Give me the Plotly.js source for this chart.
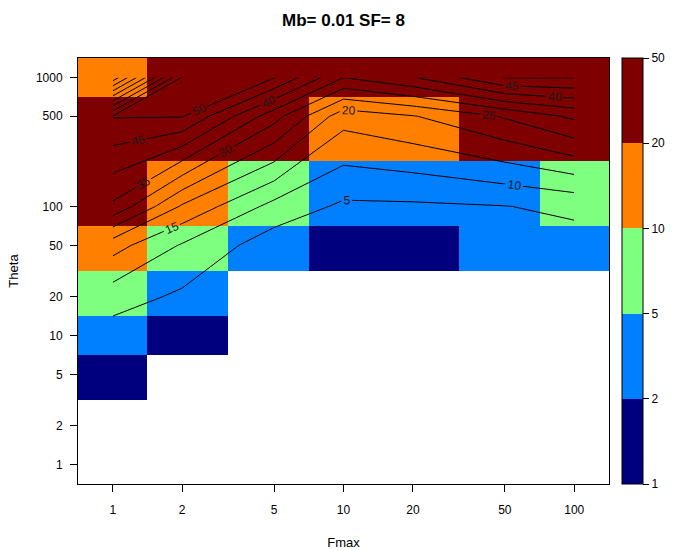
<!DOCTYPE html>
<html><head><meta charset="utf-8">
<script src="https://cdn.plot.ly/plotly-3.0.1.min.js"></script>
<style>html,body{margin:0;padding:0;background:#fff}</style>
</head><body><div id="chart" style="width:678px;height:550px"></div>
<script>
// Axes values
const fmax = [1, 2, 5, 10, 20, 50, 100];
const theta = [1, 2, 5, 10, 20, 50, 100, 500, 1000];
// z values, one array per Theta row (columns follow fmax)
const zTheta1    = [0.5, 0.5, 0.5, 0.5, 0.5, 0.5, 0.5];
const zTheta2    = [0.5, 0.5, 0.5, 0.5, 0.5, 0.5, 0.5];
const zTheta5    = [1.5, 0.5, 0.5, 0.5, 0.5, 0.5, 0.5];
const zTheta10   = [2.7, 1.5, 0.5, 0.5, 0.5, 0.5, 0.5];
const zTheta20   = [7.3, 4.1, 0.5, 0.5, 0.5, 0.5, 0.5];
const zTheta50   = [17, 9.5, 2.2, 1.5, 1.6, 2.8, 2.8];
const zTheta100  = [34, 19.3, 8.3, 4.1, 4.2, 4.85, 6.2];
const zTheta500  = [50.3, 50.3, 32, 17, 19.7, 25.5, 31];
const zTheta1000 = [11.6, 50.3, 50.3, 35.1, 39.8, 50.3, 50.3];
// colour classes
const breaks = [1, 2, 5, 10, 20, 50];
const breakLabels = ['1', '2', '5', '10', '20', '50'];
const binColors = ['#00007F', '#007FFF', '#7FFF7F', '#FF7F00', '#7F0000'];

const zRows = [zTheta1, zTheta2, zTheta5, zTheta10, zTheta20, zTheta50, zTheta100, zTheta500, zTheta1000];
const lx = fmax.map(Math.log10);
const ly = theta.map(Math.log10);

function binOf(v) {
  if (v < breaks[0]) return null;
  let i = 0;
  while (i < breaks.length - 2 && v >= breaks[i + 1]) i++;
  return i + 0.5;
}
const zBins = zRows.map(r => r.map(binOf));

const cs = [];
binColors.forEach((c, k) => { cs.push([k / binColors.length, c]); cs.push([(k + 1) / binColors.length, c]); });

const xr = [lx[0] - (lx[1] - lx[0]) / 2, lx[lx.length - 1] + (lx[lx.length - 1] - lx[lx.length - 2]) / 2];
const yr = [ly[0] - (ly[1] - ly[0]) / 2, ly[ly.length - 1] + (ly[ly.length - 1] - ly[ly.length - 2]) / 2];

const FONT = 'Liberation Sans, Arial, sans-serif';
const W = 678, H = 550, ML = 78, MR = 69, MT = 58, MB = 66;

const heat = {
  type: 'heatmap', x: lx, y: ly, z: zBins,
  zmin: 0, zmax: binColors.length, colorscale: cs, hoverinfo: 'skip',
  colorbar: {
    x: (622 - ML) / (W - ML - MR), xanchor: 'left', xpad: 0,
    y: 0.5, yanchor: 'middle', ypad: 0, len: 1, lenmode: 'fraction',
    thickness: 21, thicknessmode: 'pixels',
    outlinewidth: 1, outlinecolor: 'black',
    tickvals: breaks.map((b, i) => i), ticktext: breakLabels,
    ticks: 'outside', ticklen: 6, tickcolor: 'black', tickwidth: 1,
    tickfont: {family: FONT, size: 12, color: 'black'}
  }
};
const cont = {
  type: 'contour', x: lx, y: ly, z: zRows,
  autocontour: false,
  contours: {coloring: 'none', start: 5, end: 50, size: 5, showlabels: true,
    labelfont: {family: FONT, size: 12, color: '#1a1a1a'}},
  line: {color: 'black', width: 1, smoothing: 0},
  showscale: false, hoverinfo: 'skip'
};

const axisBase = {
  ticks: 'outside', ticklen: 7, tickwidth: 1, tickcolor: 'black',
  showline: true, mirror: true, linecolor: 'black', linewidth: 1,
  showgrid: false, zeroline: false,
  tickfont: {family: FONT, size: 12, color: 'black'}
};

const layout = {
  width: W, height: H,
  margin: {l: ML, r: MR, t: MT, b: MB, pad: 0},
  paper_bgcolor: 'white', plot_bgcolor: 'white',
  font: {family: FONT, color: 'black'},
  title: {text: '<b>Mb= 0.01 SF= 8</b>', x: (ML + (W - ML - MR) / 2) / W, xanchor: 'center',
    y: 1 - 20 / H, yanchor: 'middle', font: {family: FONT, size: 17, color: 'black'}},
  xaxis: Object.assign({}, axisBase, {
    range: xr, tickmode: 'array', tickvals: lx, ticktext: fmax.map(String),
    ticklabelstandoff: 8,
    title: {text: 'Fmax', font: {family: FONT, size: 13, color: 'black'}, standoff: 22}
  }),
  yaxis: Object.assign({}, axisBase, {
    range: yr, tickmode: 'array', tickvals: ly, ticktext: theta.map(String),
    ticklabelstandoff: 5,
    title: {text: 'Theta', font: {family: FONT, size: 13, color: 'black'}, standoff: 14}
  }),
  showlegend: false
};

Plotly.newPlot('chart', [heat, cont], layout, {staticPlot: true, displayModeBar: false});
</script></body></html>
